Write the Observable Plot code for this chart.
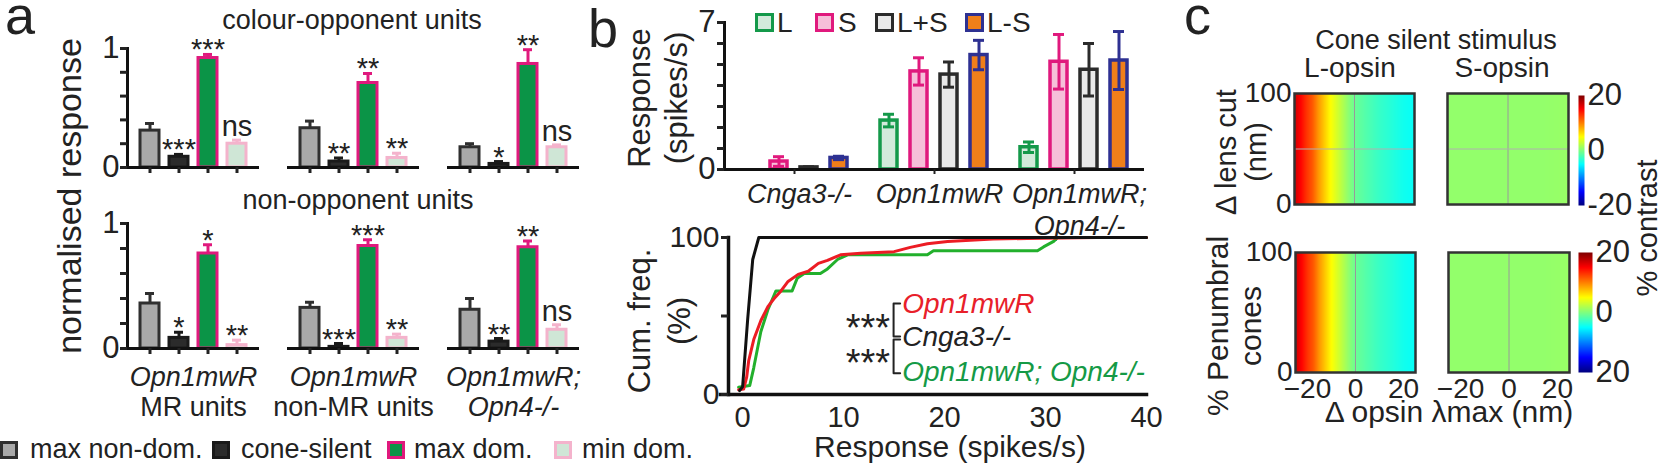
<!DOCTYPE html>
<html><head><meta charset="utf-8">
<script src="https://cdn.jsdelivr.net/npm/d3@7"></script>
<script src="https://cdn.jsdelivr.net/npm/@observablehq/plot@0.6"></script>
<style>
html,body{margin:0;padding:0;background:#fff;}
#root{position:relative;width:1661px;height:463px;overflow:hidden;font-family:"Liberation Sans",Arial,Helvetica,sans-serif;color:#222;}
.t{position:absolute;white-space:pre;}
.r{position:absolute;white-space:pre;text-align:center;}
.sq{position:absolute;box-sizing:border-box;border-style:solid;}
</style></head><body><div id="root"></div>
<script>
// ---------------- DATA ----------------
// Panel a
const groupsA = ["MR", "nonMR", "Opn4"];
const conditionsA = ["max non-dom.", "cone-silent", "max dom.", "min dom."];
const opponentMean = [[0.31, 0.09, 0.92, 0.20], [0.33, 0.05, 0.71, 0.08], [0.17, 0.03, 0.87, 0.17]];
const opponentErr  = [[0.06, 0.02, 0.03, 0.03], [0.06, 0.03, 0.08, 0.04], [0.03, 0.02, 0.12, 0.02]];
const opponentSig  = [["", "***", "***", "ns"], ["", "**", "**", "**"], ["", "*", "**", "ns"]];
const nonOpponentMean = [[0.36, 0.085, 0.76, 0.027], [0.325, 0.013, 0.82, 0.085], [0.31, 0.055, 0.81, 0.15]];
const nonOpponentErr  = [[0.08, 0.045, 0.07, 0.04], [0.045, 0.027, 0.05, 0.03], [0.09, 0.025, 0.05, 0.04]];
const nonOpponentSig  = [["", "*", "*", "**"], ["", "***", "***", "**"], ["", "**", "**", "ns"]];
const groupLine1A = ["Opn1mwR", "Opn1mwR", "Opn1mwR;"];
const groupLine2A = ["MR units", "non-MR units", "Opn4-/-"];
const yTicksA = [0, 0.2, 0.4, 0.6, 0.8, 1];

// Panel b (top)
const groupsB = ["Cnga3-/-", "Opn1mwR", "Opn1mwR; Opn4-/-"];
const groupLabelsB = ["Cnga3-/-", "Opn1mwR", "Opn1mwR;\nOpn4-/-"];
const conditionsB = ["L", "S", "L+S", "L-S"];
const responseMean = [[0.0, 0.38, 0.10, 0.55], [2.33, 4.67, 4.52, 5.45], [1.06, 5.13, 4.75, 5.19]];
const responseErr  = [[0.0, 0.23, 0.03, 0.08], [0.30, 0.65, 0.60, 0.70], [0.25, 1.30, 1.25, 1.38]];
const yTicksB = [0, 1, 2, 3, 4, 5, 6, 7];

// Panel b (bottom) cumulative frequency
const cnga3X = [-0.3, 0.0, 0.5, 1.0, 1.6, 40];
const cnga3Y = [2.5, 5, 48, 86, 100, 100];
const opn1X = [-0.4, 0.1, 0.4, 0.6, 1.1, 1.8, 2.5, 3.1, 3.8, 4.5, 5.5, 6.5, 7.5, 8.4, 9.7, 11.7, 15, 16.6, 18.3, 20.3, 24.8, 28.2, 35, 40];
const opn1Y = [3, 3.5, 11, 21.5, 35, 47, 56, 61, 66, 72, 76.5, 78.5, 83.5, 85.4, 89, 90, 91, 93.7, 96, 97.5, 99, 99.4, 100, 100];
const opn4X = [-0.4, 0.7, 1.1, 1.8, 2.5, 3.3, 4.9, 5.4, 6.1, 7.7, 8.4, 9.4, 10.4, 18.3, 18.9, 29.2, 29.8, 30.8, 31.2, 40];
const opn4Y = [4.6, 5.7, 17, 40, 54, 66, 66, 74, 77, 77, 80, 86, 89, 89, 91.5, 91.5, 94, 97.5, 100, 100];
const yTicksCdf = [0, 50, 100];
const xTicksCdf = [0, 10, 20, 30, 40];
const cdfLegend = ["Opn1mwR", "Cnga3-/-", "Opn1mwR; Opn4-/-"];
const cdfLegendPos = [[15.8, 57.6], [15.8, 36.3], [15.8, 14]];
const cdfStarsPos = [[12.4, 42], [12.4, 19.7]];
const bracketUpper = [[15.6, 58], [14.95, 58], [14.95, 37], [15.6, 37]];
const bracketLower = [[15.6, 35], [14.95, 35], [14.95, 13.5], [15.6, 13.5]];

// Panel c heat maps (contrast % vs opsin lambda-max shift; constant along the y variable)
const lambdaShift = [-25, -22.5, -20, -17.5, -15, -12.5, -10, -7.5, -5, -2.5, 0, 5, 10, 15, 20, 25];
const yExtentC = [0, 100];
const lensCutL = [17, 15, 13, 11.5, 9, 7, 5, 3.5, 2, 0.5, -0.8, -1.8, -2.8, -3.5, -4.3, -4.8];
const lensCutS = [0.8, 0.8, 0.8, 0.8, 0.8, 0.8, 0.8, 0.8, 0.8, 0.8, 0.8, 0.8, 0.8, 0.8, 0.9, 1.0];
const penumbralL = [17, 15, 13, 11.5, 9, 7, 5, 3.5, 2, 0.5, -0.8, -1.8, -2.8, -3.5, -4.3, -4.8];
const penumbralS = [0.8, 0.8, 0.8, 0.8, 0.8, 0.8, 0.8, 0.8, 0.8, 0.8, 0.8, 0.8, 0.8, 0.8, 0.9, 1.0];
const xTicksC = [-20, 0, 20];
const yTicksC = [0, 100];
const colorbarTicks = [-20, 0, 20];
const colorbarTopLabels = ["-20", "0", "20"];
const colorbarBottomLabels = ["20", "0", "20"];

// ---------------- STYLES ----------------
const FONT = '"Liberation Sans", Arial, Helvetica, sans-serif';
const INK = "#222";
const fillA = {"max non-dom.": "#a9a9a9", "cone-silent": "#2b2b2b", "max dom.": "#0b9447", "min dom.": "#cfe6d6"};
const strokeA = {"max non-dom.": "#2f2f2f", "cone-silent": "#1a1a1a", "max dom.": "#e0197d", "min dom.": "#f4b3cc"};
const fillB = {"L": "#d3eadb", "S": "#f6bfd9", "L+S": "#e9e9e9", "L-S": "#f07f1a"};
const strokeB = {"L": "#14994a", "S": "#e0197d", "L+S": "#2b2b2b", "L-S": "#2e3192"};
const cdfColor = {"Cnga3-/-": "#111111", "Opn1mwR": "#ec1c24", "Opn1mwR; Opn4-/-": "#22b02c"};
const cdfTextColor = {"Cnga3-/-": "#222", "Opn1mwR": "#e8202a", "Opn1mwR; Opn4-/-": "#159a46"};
const jetDomain = [-20, -15, -10, -5, 0, 5, 10, 15, 20];
const jetRange = ["#00007f", "#0000ff", "#007fff", "#00ffff", "#7fff7f", "#ffff00", "#ff7f00", "#ff0000", "#7f0000"];
const colorOpt = {type: "linear", domain: jetDomain, range: jetRange, interpolate: "rgb", clamp: true};
const baseStyle = {fontFamily: FONT, fontSize: "27px", color: INK, background: "transparent", overflow: "visible"};

// ---------------- HELPERS ----------------
const root = document.getElementById("root");
function place(svg, left, top) {
  svg.style.position = "absolute"; svg.style.left = left + "px"; svg.style.top = top + "px";
  svg.style.overflow = "visible";
  root.appendChild(svg);
}
function txt(s, x, baseline, size, o = {}) {
  const lh = o.lh || 1;
  const d = document.createElement("div");
  d.className = "t"; d.textContent = s;
  d.style.left = x + "px";
  d.style.top = (baseline - ((lh - 1.117) / 2 + 0.905) * size) + "px";
  d.style.fontSize = size + "px"; d.style.lineHeight = (lh * size) + "px";
  d.style.fontStyle = o.italic ? "italic" : "normal";
  d.style.color = o.color || INK;
  d.style.transform = o.anchor === "middle" ? "translateX(-50%)" : o.anchor === "end" ? "translateX(-100%)" : "none";
  root.appendChild(d);
}
function rot(lines, cx, cy, size, lh) {
  const d = document.createElement("div");
  d.className = "r"; d.textContent = lines.join("\n");
  d.style.left = cx + "px"; d.style.top = cy + "px";
  d.style.fontSize = size + "px"; d.style.lineHeight = lh + "px";
  d.style.transform = "translate(-50%,-50%) rotate(-90deg)";
  root.appendChild(d);
}
function square(x, y, s, fill, stroke, bw) {
  const d = document.createElement("div");
  d.className = "sq";
  d.style.left = x + "px"; d.style.top = y + "px"; d.style.width = s + "px"; d.style.height = s + "px";
  d.style.background = fill; d.style.borderColor = stroke; d.style.borderWidth = bw + "px";
  root.appendChild(d);
}

// ---------------- PANEL a ----------------
function rowsA(mean, err, sig) {
  return groupsA.flatMap((g, i) => conditionsA.map((c, j) => ({group: g, cond: c, value: mean[i][j], err: err[i][j], sig: sig[i][j]})));
}
function panelA(rows, o) {
  const top = d => d.value + d.err;
  const marks = [
    Plot.barY(rows, {fx: "group", x: "cond", y: "value", fill: d => fillA[d.cond], stroke: d => strokeA[d.cond], strokeWidth: 3}),
    Plot.ruleX(rows, {fx: "group", x: "cond", y1: "value", y2: top, stroke: d => strokeA[d.cond], strokeWidth: 3}),
    Plot.tickY(rows, {fx: "group", x: "cond", y: top, stroke: d => strokeA[d.cond], strokeWidth: 3, insetLeft: 5, insetRight: 5}),
    Plot.ruleY([0], {stroke: "#111", strokeWidth: 3}),
    Plot.frame({anchor: "left", facetAnchor: "left", stroke: "#111", strokeWidth: 3}),
    Plot.axisY({ticks: yTicksA, tickSize: 7, tickPadding: 1, strokeWidth: 3, fontSize: 31, label: null,
      tickFormat: d => (d === 0 || d === 1) ? String(d) : ""}),
    Plot.axisX({tickSize: 6, strokeWidth: 3, label: null, tickFormat: () => ""}),
    Plot.text(rows.filter(d => d.sig.startsWith("*")), {fx: "group", x: "cond", y: top, text: "sig", fontSize: 29, lineAnchor: "bottom", dy: 5, fill: INK}),
    Plot.text(rows.filter(d => d.sig === "ns"), {fx: "group", x: "cond", y: top, text: "sig", fontSize: 29, lineAnchor: "bottom", dy: -4, fill: INK})
  ];
  if (o.labels) {
    const lab = groupsA.map((g, i) => ({group: g, l1: groupLine1A[i], l2: groupLine2A[i], italic2: i === 2}));
    marks.push(
      Plot.text(lab, {fx: "group", text: "l1", frameAnchor: "bottom", dy: 29, fontSize: 27, fontStyle: "italic", lineAnchor: "middle", fill: INK}),
      Plot.text(lab.filter(d => !d.italic2), {fx: "group", text: "l2", frameAnchor: "bottom", dy: 59, fontSize: 27, lineAnchor: "middle", fill: INK}),
      Plot.text(lab.filter(d => d.italic2), {fx: "group", text: "l2", frameAnchor: "bottom", dy: 59, fontSize: 27, fontStyle: "italic", lineAnchor: "middle", fill: INK})
    );
  }
  return Plot.plot({
    width: 600, height: o.height,
    marginLeft: 127, marginRight: 21, marginTop: 48, marginBottom: o.marginBottom,
    fx: {domain: groupsA, paddingInner: 0.175, paddingOuter: 0, axis: null, label: null},
    x: {domain: conditionsA, paddingInner: 0.333, paddingOuter: 0.367, axis: null, label: null},
    y: {domain: [0, 1], axis: null},
    style: baseStyle,
    marks
  });
}
place(panelA(rowsA(opponentMean, opponentErr, opponentSig), {height: 180, marginBottom: 13}), 0, 0);
place(panelA(rowsA(nonOpponentMean, nonOpponentErr, nonOpponentSig), {height: 262, marginBottom: 89, labels: true}), 0, 175);

// panel a texts
txt("a", 5, 35, 54, {lh: 0.55});
txt("colour-opponent units", 352, 30, 27, {anchor: "middle"});
txt("non-opponent units", 358, 210, 27, {anchor: "middle"});
rot(["normalised response"], 69, 196, 34, 34);
// panel a legend
const legA = [[0, 30], [212, 241], [387, 414], [554, 582]];
conditionsA.forEach((c, i) => {
  square(legA[i][0], 441, 18, fillA[c], strokeA[c], 3);
  txt(c, legA[i][1], 459, 27);
});

// ---------------- PANEL b top ----------------
const rowsB = groupsB.flatMap((g, i) => conditionsB.map((c, j) => ({group: g, cond: c, value: responseMean[i][j], err: responseErr[i][j]})));
const labB = groupsB.map((g, i) => ({group: g, label: groupLabelsB[i]}));
const pb1 = Plot.plot({
  width: 560, height: 240,
  marginLeft: 123, marginRight: 15, marginTop: 22, marginBottom: 71,
  fx: {domain: groupsB, paddingInner: 0, paddingOuter: 0, axis: null, label: null},
  x: {domain: conditionsB, paddingInner: 0.42, paddingOuter: 0.479, axis: null, label: null},
  y: {domain: [0, 7], axis: null},
  style: baseStyle,
  marks: [
    Plot.barY(rowsB, {fx: "group", x: "cond", y: "value", fill: d => fillB[d.cond], stroke: d => strokeB[d.cond], strokeWidth: 3.5}),
    Plot.ruleX(rowsB.filter(d => d.err > 0), {fx: "group", x: "cond", y1: d => d.value - d.err, y2: d => d.value + d.err, stroke: d => strokeB[d.cond], strokeWidth: 3}),
    Plot.tickY(rowsB.filter(d => d.err > 0), {fx: "group", x: "cond", y: d => d.value + d.err, stroke: d => strokeB[d.cond], strokeWidth: 3, insetLeft: 3, insetRight: 3}),
    Plot.tickY(rowsB.filter(d => d.err > 0), {fx: "group", x: "cond", y: d => d.value - d.err, stroke: d => strokeB[d.cond], strokeWidth: 3, insetLeft: 3, insetRight: 3}),
    Plot.ruleY([0], {stroke: "#111", strokeWidth: 3}),
    Plot.frame({anchor: "left", facetAnchor: "left", stroke: "#111", strokeWidth: 3}),
    Plot.axisY({ticks: yTicksB, tickSize: 7, tickPadding: 2, strokeWidth: 3, fontSize: 31, label: null,
      tickFormat: d => (d === 0 || d === 7) ? String(d) : ""}),
    Plot.axisFx({anchor: "bottom", tickSize: 5, strokeWidth: 2, label: null, tickFormat: () => ""}),
    Plot.text(labB, {fx: "group", text: "label", frameAnchor: "bottom", dy: 11, dx: 5, fontSize: 27, fontStyle: "italic", lineAnchor: "top", lineHeight: 1.19, fill: INK})
  ]
});
place(pb1, 600, 0);
txt("b", 588, 47, 54, {lh: 0.8});
rot(["Response", "(spikes/s)"], 658, 98, 31, 37);
const legB = [[755, 777], [815, 838], [875, 897], [965, 987]];
conditionsB.forEach((c, i) => {
  square(legB[i][0], 13, 19, fillB[c], strokeB[c], 3.5);
  txt(c, legB[i][1], 33, 28);
});

// ---------------- PANEL b bottom ----------------
const zip = (xs, ys, name) => xs.map((x, i) => ({x, y: ys[i], series: name}));
const cdfRows = [...zip(cnga3X, cnga3Y, "Cnga3-/-"), ...zip(opn1X, opn1Y, "Opn1mwR"), ...zip(opn4X, opn4Y, "Opn1mwR; Opn4-/-")];
const legRows = cdfLegend.map((s, i) => ({x: cdfLegendPos[i][0], y: cdfLegendPos[i][1], text: s}));
const starRows = cdfStarsPos.map(p => ({x: p[0], y: p[1], text: "***"}));
const brRows = [...bracketUpper.map(p => ({x: p[0], y: p[1], b: 1})), ...bracketLower.map(p => ({x: p[0], y: p[1], b: 2}))];
const pb2 = Plot.plot({
  width: 560, height: 215,
  marginLeft: 128, marginRight: 14, marginTop: 12, marginBottom: 46,
  x: {domain: [-1.4, 40], axis: null},
  y: {domain: [0, 100], axis: null},
  style: baseStyle,
  marks: [
    Plot.line(cdfRows.filter(d => d.series === "Opn1mwR; Opn4-/-"), {x: "x", y: "y", stroke: cdfColor["Opn1mwR; Opn4-/-"], strokeWidth: 3}),
    Plot.line(cdfRows.filter(d => d.series === "Opn1mwR"), {x: "x", y: "y", stroke: cdfColor["Opn1mwR"], strokeWidth: 3}),
    Plot.line(cdfRows.filter(d => d.series === "Cnga3-/-"), {x: "x", y: "y", stroke: cdfColor["Cnga3-/-"], strokeWidth: 3}),
    Plot.frame({anchor: "left", stroke: "#111", strokeWidth: 3.5}),
    Plot.frame({anchor: "bottom", stroke: "#111", strokeWidth: 3.5, insetLeft: -8}),
    Plot.axisY({ticks: yTicksCdf, tickSize: 7, tickPadding: 2, strokeWidth: 3, fontSize: 30, label: null,
      tickFormat: d => d === 50 ? "" : String(d)}),
    Plot.axisX({ticks: xTicksCdf, tickSize: 0, tickPadding: 12, fontSize: 29, label: null}),
    Plot.line(brRows, {x: "x", y: "y", z: "b", stroke: "#222", strokeWidth: 2}),
    Plot.text(starRows, {x: "x", y: "y", text: "text", fontSize: 38, lineAnchor: "middle", fill: INK}),
    Plot.text(legRows, {x: "x", y: "y", text: "text", fontSize: 28, fontStyle: "italic", textAnchor: "start", lineAnchor: "middle", fill: d => cdfTextColor[d.text]})
  ]
});
place(pb2, 600, 225);
rot(["Cum. freq.", "(%)"], 660, 321, 31, 40);
txt("Response (spikes/s)", 950, 457, 30, {anchor: "middle"});

// ---------------- PANEL c ----------------
function heat(values, o) {
  const cells = lambdaShift.flatMap((x, i) => yExtentC.map(y => ({x, y, v: values[i]})));
  const mL = 60, mR = 6, mT = 10, mB = o.xAxis ? 36 : 6;
  const svg = Plot.plot({
    width: mL + o.w + mR, height: mT + o.h + mB,
    marginLeft: mL, marginRight: mR, marginTop: mT, marginBottom: mB,
    x: {domain: [-25, 25], axis: null},
    y: {domain: yExtentC, axis: null},
    color: colorOpt,
    style: baseStyle,
    marks: [
      Plot.raster(cells, {x: "x", y: "y", fill: "v", interpolate: "barycentric", x1: -25, x2: 25, y1: 0, y2: 100}),
      Plot.gridX({ticks: [0], stroke: "#9a9a9a", strokeOpacity: 1, strokeWidth: 1}),
      o.hgrid ? Plot.gridY({ticks: [50], stroke: "#b0b0b0", strokeOpacity: 1, strokeWidth: 1}) : null,
      Plot.frame({stroke: "#333", strokeWidth: 2.5}),
      o.yAxis ? Plot.axisY({ticks: yTicksC, tickSize: 0, tickPadding: 3, fontSize: 28, label: null}) : null,
      o.xAxis ? Plot.axisX({ticks: xTicksC, tickSize: 0, tickPadding: 6, fontSize: 28, label: null}) : null
    ]
  });
  place(svg, o.left - mL, o.top - mT);
}
function colorbar(labels, o) {
  const lab = new Map(colorbarTicks.map((t, i) => [t, labels[i]]));
  const svg = Plot.plot({
    width: o.w + 50, height: o.h + 20,
    marginLeft: 0, marginRight: 50, marginTop: 10, marginBottom: 10,
    x: {domain: [0, 1], axis: null},
    y: {domain: [-20, 20], axis: null},
    color: colorOpt,
    style: baseStyle,
    marks: [
      Plot.raster({fill: (x, y) => y, x1: 0, x2: 1, y1: -20, y2: 20}),
      Plot.axisY({anchor: "right", ticks: colorbarTicks, tickSize: 0, tickPadding: 3, fontSize: 31, label: null, tickFormat: d => lab.get(d)})
    ]
  });
  place(svg, o.left, o.top - 10);
}
heat(lensCutL, {left: 1294, top: 93, w: 120, h: 111, yAxis: true, hgrid: true});
heat(lensCutS, {left: 1447, top: 93, w: 121, h: 111, hgrid: true});
heat(penumbralL, {left: 1295, top: 252, w: 120, h: 120, yAxis: true, xAxis: true});
heat(penumbralS, {left: 1448, top: 252, w: 121, h: 120, xAxis: true});
colorbar(colorbarTopLabels, {left: 1578, top: 95, w: 6, h: 110});
colorbar(colorbarBottomLabels, {left: 1578, top: 252, w: 14, h: 120});

txt("c", 1184, 35, 54, {lh: 0.55});
txt("Cone silent stimulus", 1436, 50, 27, {anchor: "middle"});
txt("L-opsin", 1350, 78, 28, {anchor: "middle"});
txt("S-opsin", 1502, 78, 28, {anchor: "middle"});
rot(["\u0394 lens cut", "(nm)"], 1241, 152, 29, 30);
rot(["% Penumbral", "cones"], 1234, 326, 30, 33);
rot(["% contrast"], 1647, 228, 29, 29);
txt("\u0394 opsin \u03bbmax (nm)", 1449, 422, 30, {anchor: "middle"});
</script></body></html>
